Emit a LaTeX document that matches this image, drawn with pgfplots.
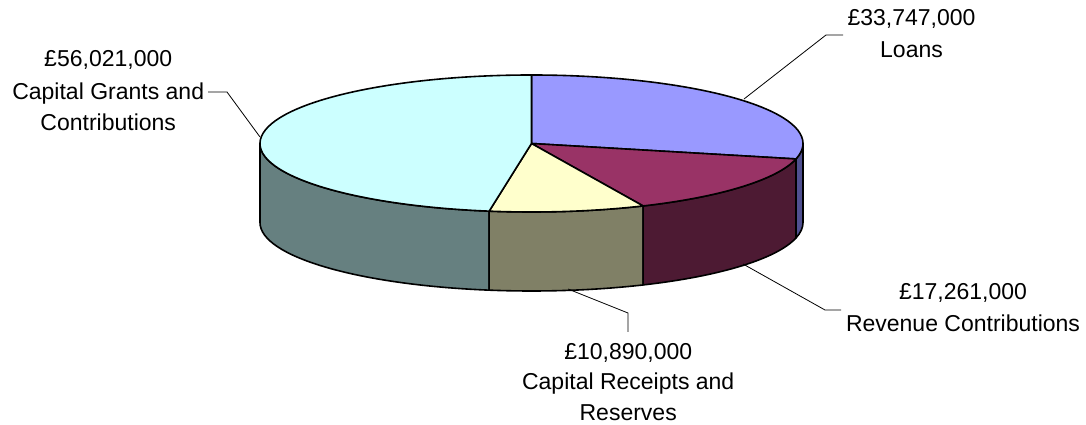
\documentclass[border=0pt]{standalone}
\usepackage{pgfplots}
\pgfplotsset{compat=1.18}
\usepackage{pgfplotstable}
\usepackage{fontspec}
\setmainfont{Liberation Sans}

\definecolor{loansT}{HTML}{9999FF}
\definecolor{loansS}{HTML}{505090}
\definecolor{revT}{HTML}{993366}
\definecolor{revS}{HTML}{4D1A33}
\definecolor{recT}{HTML}{FFFFCC}
\definecolor{recS}{HTML}{808066}
\definecolor{grT}{HTML}{CCFFFF}
\definecolor{grS}{HTML}{668080}

% values in millions of pounds
\pgfplotstableread{
label value
Loans 33.747
Revenue 17.261
Receipts 10.890
Grants 56.021
}\piedata

\def\cx{531.5}
\def\cy{281.5}
\def\rx{271.5}
\def\ry{68.5}
\def\dd{79}

\newcommand{\side}[3]{%
  \filldraw[fill=#3,draw=black,line width=1.6pt,line join=round]
    (axis cs:{\cx+\rx*cos(#1)},{\cy+\ry*sin(#1)})
    arc[start angle=#1,end angle=#2,x radius=\rx pt,y radius=\ry pt]
    -- ++(0pt,-\dd pt)
    arc[start angle=#2,end angle=#1,x radius=\rx pt,y radius=\ry pt]
    -- cycle;}
\newcommand{\topw}[3]{%
  \filldraw[fill=#3,draw=black,line width=1.6pt,line join=round]
    (axis cs:\cx,\cy) -- (axis cs:{\cx+\rx*cos(#1)},{\cy+\ry*sin(#1)})
    arc[start angle=#1,end angle=#2,x radius=\rx pt,y radius=\ry pt]
    -- cycle;}

\begin{document}
\begin{tikzpicture}
\pgfplotstablegetelem{0}{value}\of\piedata \let\vA\pgfplotsretval
\pgfplotstablegetelem{1}{value}\of\piedata \let\vB\pgfplotsretval
\pgfplotstablegetelem{2}{value}\of\piedata \let\vC\pgfplotsretval
\pgfplotstablegetelem{3}{value}\of\piedata \let\vD\pgfplotsretval
\pgfmathsetmacro{\tot}{\vA+\vB+\vC+\vD}
\pgfmathsetmacro{\aA}{90}
\pgfmathsetmacro{\aB}{\aA-(\vA/\tot)*360}
\pgfmathsetmacro{\aC}{\aB-(\vB/\tot)*360}
\pgfmathsetmacro{\aD}{\aC-(\vC/\tot)*360}
\pgfmathsetmacro{\aE}{\aD-(\vD/\tot)*360}
\begin{axis}[x=1pt,y=1pt,xmin=0,xmax=1086,ymin=0,ymax=425,
  hide axis,clip=false,anchor=origin,at={(0,0)}]
  % visible side walls
  \side{\aD}{-180}{grS}
  \side{\aC}{\aD}{recS}
  \side{\aB}{\aC}{revS}
  \side{0}{\aB}{loansS}
  % top faces
  \topw{\aA}{\aB}{loansT}
  \topw{\aB}{\aC}{revT}
  \topw{\aC}{\aD}{recT}
  \topw{\aD}{\aE}{grT}
  % leader lines
  \draw[black,line width=0.8pt] (axis cs:744,326) -- (axis cs:826,390) -- (axis cs:843,390);
  \draw[black,line width=0.8pt] (axis cs:208,333) -- (axis cs:227,333) -- (axis cs:260,288);
  \draw[black,line width=0.8pt] (axis cs:743,161) -- (axis cs:825,115) -- (axis cs:841,115);
  \draw[black,line width=0.8pt] (axis cs:568,136) -- (axis cs:628,112) -- (axis cs:628,93);
  % labels
  \tikzset{lab/.style={anchor=base,inner sep=0pt,font=\fontsize{23}{31}\selectfont}}
  \node[lab] at (axis cs:911.5,399) {£33,747,000};
  \node[lab] at (axis cs:911.5,367.7) {Loans};
  \node[lab] at (axis cs:108.2,358.3) {£56,021,000};
  \node[lab] at (axis cs:108.2,325.7) {Capital Grants and};
  \node[lab] at (axis cs:108.2,294.3) {Contributions};
  \node[lab] at (axis cs:963,125.7) {£17,261,000};
  \node[lab] at (axis cs:963,93.3) {Revenue Contributions};
  \node[lab] at (axis cs:628.2,65.7) {£10,890,000};
  \node[lab] at (axis cs:628.2,35) {Capital Receipts and};
  \node[lab] at (axis cs:628.2,4.3) {Reserves};
\end{axis}
\path (0,0) rectangle (1086pt,425pt);
\end{tikzpicture}
\end{document}
